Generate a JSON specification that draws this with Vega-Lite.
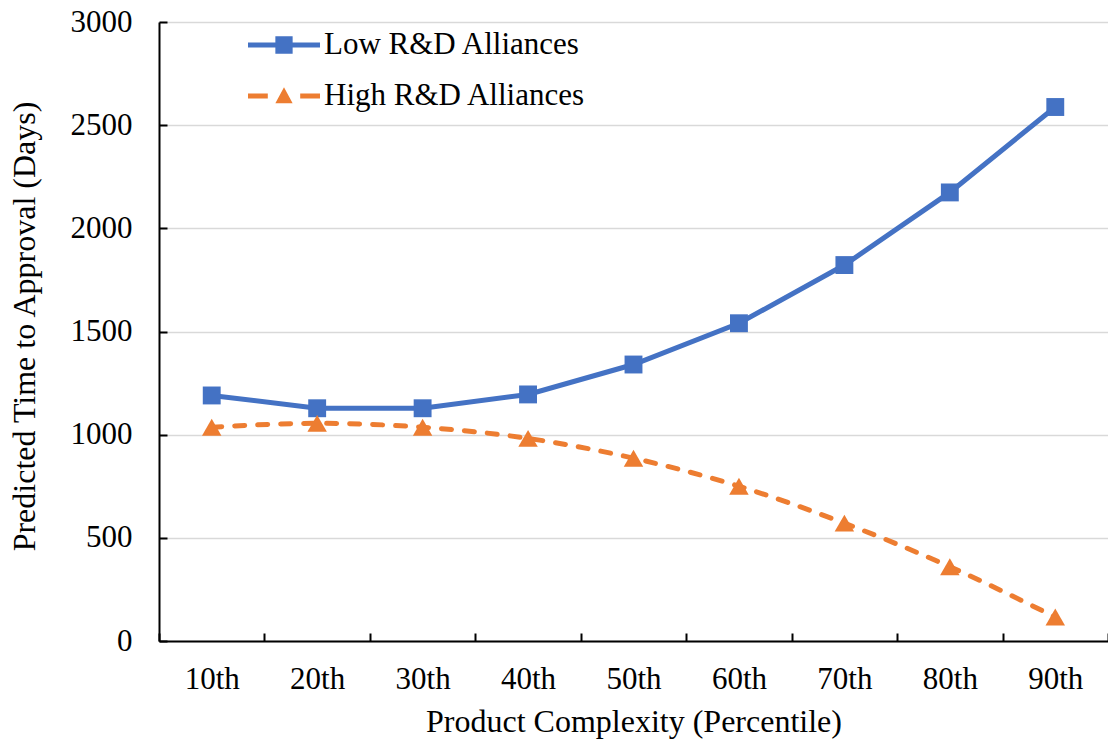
{
  "$schema": "https://vega.github.io/schema/vega-lite/v6.json",
  "width": 949,
  "height": 619,
  "autosize": "none",
  "padding": {"left": 159, "top": 22, "right": 0, "bottom": 99},
  "background": "white",
  "config": {
    "font": "Liberation Serif",
    "view": {"stroke": null},
    "axis": {"labelFont": "Liberation Serif", "titleFont": "Liberation Serif"},
    "legend": {"labelFont": "Liberation Serif"}
  },
  "data": {
    "values": [
      {"pct": "10th", "series": "Low R&D Alliances", "value": 1190},
      {"pct": "20th", "series": "Low R&D Alliances", "value": 1128},
      {"pct": "30th", "series": "Low R&D Alliances", "value": 1128},
      {"pct": "40th", "series": "Low R&D Alliances", "value": 1195},
      {"pct": "50th", "series": "Low R&D Alliances", "value": 1340},
      {"pct": "60th", "series": "Low R&D Alliances", "value": 1540},
      {"pct": "70th", "series": "Low R&D Alliances", "value": 1822},
      {"pct": "80th", "series": "Low R&D Alliances", "value": 2174},
      {"pct": "90th", "series": "Low R&D Alliances", "value": 2588},
      {"pct": "10th", "series": "High R&D Alliances", "value": 1036},
      {"pct": "20th", "series": "High R&D Alliances", "value": 1055},
      {"pct": "30th", "series": "High R&D Alliances", "value": 1036},
      {"pct": "40th", "series": "High R&D Alliances", "value": 982},
      {"pct": "50th", "series": "High R&D Alliances", "value": 886},
      {"pct": "60th", "series": "High R&D Alliances", "value": 750},
      {"pct": "70th", "series": "High R&D Alliances", "value": 571},
      {"pct": "80th", "series": "High R&D Alliances", "value": 360},
      {"pct": "90th", "series": "High R&D Alliances", "value": 116}
    ]
  },
  "encoding": {
    "x": {
      "field": "pct",
      "type": "ordinal",
      "sort": null,
      "scale": {"type": "band", "paddingInner": 0, "paddingOuter": 0},
      "axis": {
        "title": "Product Complexity (Percentile)",
        "titleFont": "Liberation Serif",
        "titleFontSize": 32,
        "titleFontWeight": "normal",
        "titleColor": "black",
        "titleY": 90,
        "titleBaseline": "alphabetic",
        "labelFont": "Liberation Serif",
        "labelFontSize": 31,
        "labelColor": "black",
        "labelAngle": 0,
        "labelPadding": 31,
        "labelBaseline": "top",
        "tickBand": "extent",
        "tickSize": -8,
        "tickColor": "black",
        "tickWidth": 2,
        "domainColor": "black",
        "domainWidth": 2,
        "grid": false
      }
    },
    "y": {
      "field": "value",
      "type": "quantitative",
      "scale": {"domain": [0, 3000], "nice": false},
      "axis": {
        "values": [0, 500, 1000, 1500, 2000, 2500, 3000],
        "format": "d",
        "title": "Predicted Time to Approval (Days)",
        "titleFont": "Liberation Serif",
        "titleFontSize": 32,
        "titleFontWeight": "normal",
        "titleColor": "black",
        "titleX": -135,
        "titleY": 304,
        "titleAngle": -90,
        "titleAlign": "center",
        "titleBaseline": "middle",
        "labelFont": "Liberation Serif",
        "labelFontSize": 31,
        "labelColor": "black",
        "labelPadding": 35,
        "tickSize": -8,
        "tickColor": "black",
        "tickWidth": 2,
        "domainColor": "black",
        "domainWidth": 2,
        "grid": true,
        "gridColor": "#d9d9d9",
        "gridWidth": 1.5
      }
    }
  },
  "layer": [
    {
      "transform": [{"filter": "datum.series === 'Low R&D Alliances'"}],
      "mark": {"type": "line", "color": "#4472C4", "strokeWidth": 5}
    },
    {
      "transform": [{"filter": "datum.series === 'High R&D Alliances'"}],
      "mark": {"type": "line", "color": "#ED7D31", "strokeWidth": 5, "strokeDash": [10, 13], "strokeCap": "round", "interpolate": "monotone"}
    },
    {
      "transform": [{"filter": "datum.series === 'Low R&D Alliances'"}],
      "mark": {"type": "point", "shape": "square", "filled": true, "size": 320, "color": "#4472C4", "opacity": 1}
    },
    {
      "transform": [{"filter": "datum.series === 'High R&D Alliances'"}],
      "mark": {"type": "point", "shape": "triangle-up", "filled": true, "size": 380, "color": "#ED7D31", "opacity": 1}
    },
    {
      "mark": {"type": "point", "filled": true, "opacity": 0},
      "encoding": {
        "color": {
          "field": "series",
          "type": "nominal",
          "scale": {"domain": ["Low R&D Alliances", "High R&D Alliances"], "range": ["#4472C4", "#ED7D31"]},
          "legend": {
            "orient": "none",
            "legendX": 89,
            "legendY": -13,
            "title": null,
            "labelFont": "Liberation Serif",
            "labelFontSize": 31,
            "labelColor": "black",
            "labelLimit": 0,
            "symbolSize": 5184,
            "symbolOpacity": 1,
            "symbolStrokeWidth": 0,
            "labelOffset": 4,
            "rowPadding": 0
          }
        },
        "shape": {
          "field": "series",
          "type": "nominal",
          "scale": {
            "domain": ["Low R&D Alliances", "High R&D Alliances"],
            "range": [
              "M-1,-0.07H1V0.07H-1Z M-0.24,-0.24H0.24V0.24H-0.24Z",
              "M-1,-0.07H-0.45V0.07H-1Z M0.45,-0.07H1V0.07H0.45Z M0,-0.24L0.24,0.2H-0.24Z"
            ]
          },
          "legend": {
            "orient": "none",
            "legendX": 89,
            "legendY": -13,
            "title": null,
            "labelFont": "Liberation Serif",
            "labelFontSize": 31,
            "labelColor": "black",
            "labelLimit": 0,
            "symbolSize": 5184,
            "symbolOpacity": 1,
            "symbolStrokeWidth": 0,
            "labelOffset": 4,
            "rowPadding": 0
          }
        }
      }
    }
  ]
}
